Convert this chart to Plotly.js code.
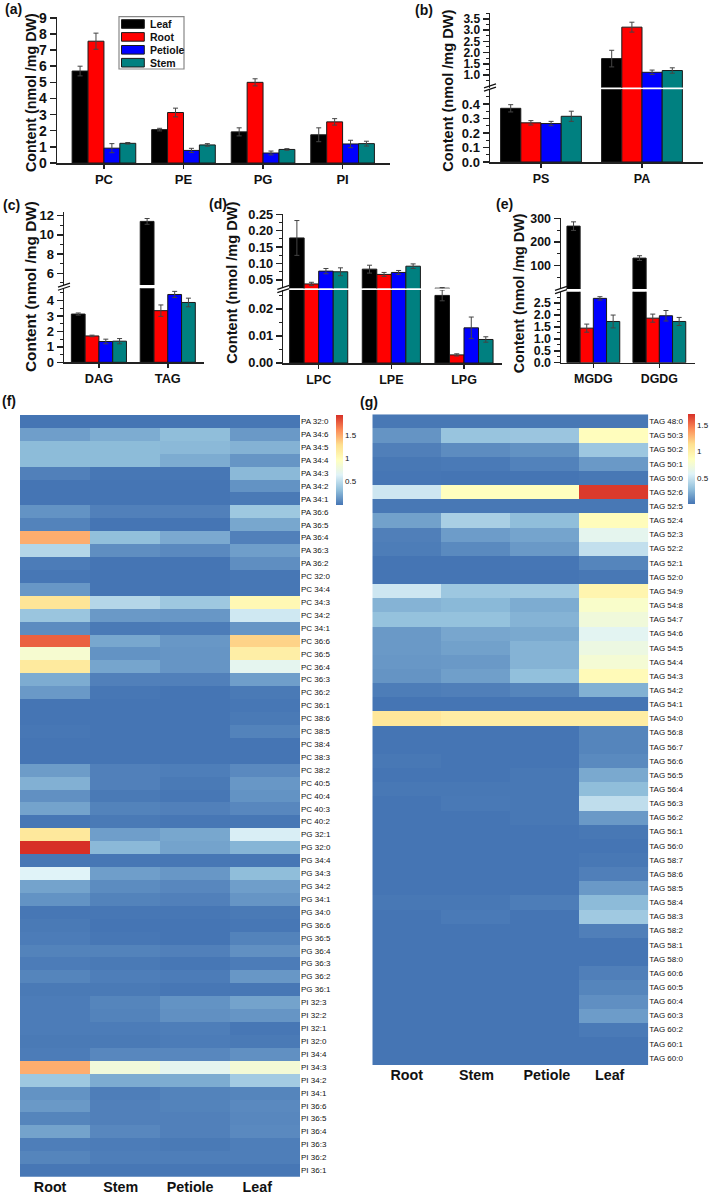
<!DOCTYPE html>
<html><head><meta charset="utf-8">
<script src="https://cdn.plot.ly/plotly-3.0.1.min.js"></script>
<style>html,body{margin:0;padding:0;background:#fff}#c{width:709px;height:1194px}</style>
</head><body><div id="c"></div>
<script>
const W = 709, H = 1194;
const seriesNames = ['Leaf', 'Root', 'Petiole', 'Stem'];
const seriesColors = ['#000000', '#ff0000', '#0000ff', '#008080'];

// (a)
const catsA = ['PC', 'PE', 'PG', 'PI'];
const valsA = [[5.7, 2.07, 1.93, 1.75], [7.55, 3.13, 5.0, 2.55], [0.92, 0.78, 0.62, 1.18], [1.22, 1.12, 0.84, 1.2]];
const errsA = [[0.3, 0.08, 0.25, 0.43], [0.5, 0.27, 0.22, 0.2], [0.28, 0.13, 0.12, 0.23], [0.05, 0.08, 0.05, 0.15]];
// (b)
const catsB = ['PS', 'PA'];
const valsB = [[0.37, 1.73], [0.27, 3.13], [0.265, 1.12], [0.315, 1.2]];
const errsB = [[0.025, 0.37], [0.015, 0.22], [0.015, 0.1], [0.035, 0.12]];
// (c)
const catsC = ['DAG', 'TAG'];
const valsC = [[3.13, 11.4], [1.71, 3.35], [1.35, 4.4], [1.37, 3.88]];
const errsC = [[0.07, 0.3], [0.05, 0.37], [0.15, 0.2], [0.17, 0.28]];
// (d)
const catsD = ['LPC', 'LPE', 'LPG'];
const valsD = [[0.178, 0.083, 0.025], [0.038, 0.067, 0.003], [0.077, 0.073, 0.013], [0.075, 0.092, 0.0087]];
const errsD = [[0.053, 0.012, 0.002], [0.005, 0.006, 0.0004], [0.008, 0.006, 0.004], [0.012, 0.007, 0.001]];
// (e)
const catsE = ['MGDG', 'DGDG'];
const valsE = [[267, 132], [1.45, 1.87], [2.7, 1.97], [1.73, 1.73]];
const errsE = [[18, 10], [0.17, 0.17], [0.07, 0.22], [0.27, 0.17]];

// heatmaps: columns Root, Stem, Petiole, Leaf
const heatCols = ['Root', 'Stem', 'Petiole', 'Leaf'];
const labelsF = ['PA 32:0','PA 34:6','PA 34:5','PA 34:4','PA 34:3','PA 34:2','PA 34:1','PA 36:6','PA 36:5','PA 36:4','PA 36:3','PA 36:2',
 'PC 32:0','PC 34:4','PC 34:3','PC 34:2','PC 34:1','PC 36:6','PC 36:5','PC 36:4','PC 36:3','PC 36:2','PC 36:1','PC 38:6','PC 38:5','PC 38:4','PC 38:3','PC 38:2','PC 40:5','PC 40:4','PC 40:3','PC 40:2',
 'PG 32:1','PG 32:0','PG 34:4','PG 34:3','PG 34:2','PG 34:1','PG 34:0','PG 36:6','PG 36:5','PG 36:4','PG 36:3','PG 36:2','PG 36:1',
 'PI 32:3','PI 32:2','PI 32:1','PI 32:0','PI 34:4','PI 34:3','PI 34:2','PI 34:1','PI 36:6','PI 36:5','PI 36:4','PI 36:3','PI 36:2','PI 36:1'];
const heatF = [
[0,0,0,.01],[.18,.24,.32,.16],[.31,.31,.30,.27],[.31,.31,.24,.14],[.05,.01,.01,.3],[0,0,0,.13],[0,0,0,.02],[.13,.05,.05,.38],[.06,0,0,.22],[1.5,.33,.23,.05],[.47,.11,.09,.18],[.03,0,0,.11],
[.01,0,0,.01],[.15,0,0,.01],[1.25,.47,.38,1.05],[.36,.16,.15,.58],[.1,.02,.03,.14],[1.78,.22,.15,1.35],[.88,.13,.14,1.15],[1.2,.21,.14,.7],[.24,.05,.05,.18],[.16,.01,0,.02],[0,0,0,.01],[0,0,0,.02],[.01,0,0,.06],[0,0,0,0],[0,0,0,0],[.17,.05,.04,.09],[.26,.05,.02,.15],[.12,.02,.01,.13],[.2,.06,.05,.08],[.01,.02,.01,.01],
[1.22,.18,.22,.62],[1.95,.3,.2,.28],[.01,.01,.01,.01],[.65,.18,.15,.32],[.2,.1,.08,.18],[.13,.06,.05,.14],[.01,.01,.01,.02],[.02,0,0,.01],[.03,.01,0,.06],[.06,.06,.05,.12],[.03,.02,.01,.03],[.07,.04,.03,.15],[.02,.02,.01,.01],
[.03,.07,.13,.2],[.03,.06,.12,.14],[.03,.03,.04,.01],[.02,.02,.03,.02],[.03,.08,.08,.12],[1.5,.82,.7,.85],[.38,.24,.24,.4],[.13,.04,.06,.07],[.16,.05,.06,.09],[.07,.05,.05,.08],[.2,.08,.05,.09],[.04,.03,.02,.04],[.07,.04,.04,.04],[.01,.01,.01,.01]];
const labelsG = ['TAG 48:0','TAG 50:3','TAG 50:2','TAG 50:1','TAG 50:0','TAG 52:6','TAG 52:5','TAG 52:4','TAG 52:3','TAG 52:2','TAG 52:1','TAG 52:0',
 'TAG 54:9','TAG 54:8','TAG 54:7','TAG 54:6','TAG 54:5','TAG 54:4','TAG 54:3','TAG 54:2','TAG 54:1','TAG 54:0',
 'TAG 56:8','TAG 56:7','TAG 56:6','TAG 56:5','TAG 56:4','TAG 56:3','TAG 56:2','TAG 56:1','TAG 56:0',
 'TAG 58:7','TAG 58:6','TAG 58:5','TAG 58:4','TAG 58:3','TAG 58:2','TAG 58:1','TAG 58:0',
 'TAG 60:6','TAG 60:5','TAG 60:4','TAG 60:3','TAG 60:2','TAG 60:1','TAG 60:0'];
const heatG = [
[.01,.01,.01,.01],[.12,.31,.32,.87],[.04,.09,.11,.33],[.01,.02,.05,.14],[.005,0,0,.01],[.5,.86,.86,1.68],[.01,.01,.01,.01],[.17,.37,.28,.88],[.04,.15,.18,.62],[.03,.08,.14,.46],[0,0,.005,.06],[0,0,0,.01],
[.5,.33,.34,.95],[.24,.26,.21,.8],[.3,.3,.24,.72],[.14,.19,.2,.6],[.14,.17,.24,.68],[.13,.14,.24,.75],[.12,.16,.29,.9],[.03,.04,.06,.23],[0,0,0,0],[1.08,1.02,1.02,1.02],
[0,0,0,.06],[0,0,0,.06],[.01,0,0,.08],[0,0,.01,.2],[.01,.01,.01,.28],[0,.015,.01,.45],[0,0,.01,.14],[0,0,0,.01],[0,0,0,0],
[0,0,0,.01],[0,0,0,.04],[0,0,0,.14],[.01,.01,.03,.27],[0,.02,0,.34],[0,0,0,.04],[0,0,0,0],[0,0,0,0],
[0,0,0,.04],[0,0,0,.06],[0,0,0,.1],[0,0,0,.15],[0,0,0,.02],[0,0,0,0],[0,0,0,0]];
const heatScale = [[0,'#4575b4'],[1/6,'#91bfdb'],[2/6,'#e0f3f8'],[3/6,'#ffffbf'],[4/6,'#fee090'],[5/6,'#fc8d59'],[1,'#d73027']];

const FONT = 'Liberation Sans, Arial, sans-serif';
const INK = '#111111';
const px = x => x / W, py = y => 1 - y / H;
const dom = (top, bottom) => [py(bottom), py(top)];
const traces = [], shapes = [], annotations = [];
const layout = {
  width: W, height: H, margin: {l:0, r:0, t:0, b:0}, paper_bgcolor:'#fff', plot_bgcolor:'rgba(0,0,0,0)',
  showlegend:false, barmode:'group', bargap:0.2, bargroupgap:0, font:{family:FONT, color:INK}
};

function ann(text, x, y, size, opt) {
  annotations.push(Object.assign({text, x:px(x), y:py(y), xref:'paper', yref:'paper', showarrow:false,
    xanchor:'center', yanchor:'middle', font:{size, family:FONT, color:INK}}, opt||{}));
}
function bold(s){ return '<b>'+s+'</b>'; }

function xAxisFor(id, yAnchor, cats, left, right, xr, tickSize) {
  layout[id] = {domain:[px(left), px(right)], range:xr, anchor:yAnchor, type:'category', tickmode:'array', tickvals:cats,
    ticktext:cats.map(bold), showgrid:false, zeroline:false, showline:true, linecolor:'#222', linewidth:1.5,
    ticks:'outside', ticklen:4, tickwidth:1.5, tickcolor:'#222', tickfont:{size:tickSize, family:FONT, color:INK}};
}
function yAxisFor(id, xAnchor, top, bottom, yr, vals, minor, fmt, tickSize) {
  const ax = {domain:dom(top, bottom), range:yr, anchor:xAnchor, tickmode:'array', tickvals:vals,
    ticktext:vals.map(v => bold(fmt ? v.toFixed(fmt) : String(v))),
    showgrid:false, zeroline:false, showline:true, linecolor:'#222', linewidth:1.5, ticks:'outside', ticklen:6, tickwidth:1.5,
    tickcolor:'#222', tickfont:{size:tickSize, family:FONT, color:INK}};
  if (minor) ax.minor = {ticks:'outside', ticklen:3, tickwidth:1, tickcolor:'#222', tickmode:'array', tickvals:minor, showgrid:false};
  layout[id] = ax;
}
// floor: values below it fall under this subplot's range and are left out of it
function bars(cats, vals, errs, xa, ya, floor) {
  vals.forEach((v, i) => traces.push({type:'bar', name:seriesNames[i], x:cats, y:v.map(d => (floor !== undefined && d < floor) ? null : d), xaxis:xa, yaxis:ya,
    marker:{color:seriesColors[i], line:{color:'#1a1a1a', width:1}},
    error_y:{type:'data', array:errs[i], visible:true, color:'#444', thickness:1, width:2.5}}));
}
function breakMark(x, y) {
  [-1.6, 1.6].forEach(d => shapes.push({type:'line', xref:'paper', yref:'paper', x0:px(x-6), x1:px(x+6), y0:py(y+d+2), y1:py(y+d-2),
    line:{color:'#111', width:1.2}}));
}

// (a)
xAxisFor('xaxis', 'y', catsA, 57, 390, [-0.59, 3.596], 13);
yAxisFor('yaxis', 'x', 17, 163, [0, 9.05], [0,1,2,3,4,5,6,7,8,9], null, 0, 14);
bars(catsA, valsA, errsA, 'x', 'y');

// (b)
xAxisFor('xaxis2', 'y2', catsB, 490, 703, [-0.505, 1.604], 12.5);
yAxisFor('yaxis2', 'x2', 89.3, 162, [0, 0.501], [0,.1,.2,.3,.4], [.05,.15,.25,.35,.45], 1, 13);
yAxisFor('yaxis3', 'x2', 13, 87.5, [0.444, 3.76], [1,1.5,2,2.5,3,3.5], [.75,1.25,1.75,2.25,2.75,3.25,3.75], 1, 12);
bars(catsB, valsB, errsB, 'x2', 'y2'); bars(catsB, valsB, errsB, 'x2', 'y3', 0.444);
breakMark(490, 87.5);

// (c)
xAxisFor('xaxis3', 'y4', catsC, 64, 204, [-0.507, 1.526], 12.75);
yAxisFor('yaxis4', 'x3', 288.3, 362.3, [0, 4.8], [0,1,2,3,4], [.5,1.5,2.5,3.5,4.5], 0, 13);
yAxisFor('yaxis5', 'x3', 211.5, 285, [4.78, 12.43], [6,8,10,12], [5,7,9,11], 0, 13);
bars(catsC, valsC, errsC, 'x3', 'y4'); bars(catsC, valsC, errsC, 'x3', 'y5', 4.78);
breakMark(64, 286.7);

// (d)
xAxisFor('xaxis4', 'y6', catsD, 283.3, 502, [-0.487, 2.523], 12.5);
yAxisFor('yaxis6', 'x4', 290, 363, [0, 0.027], [0,.01,.02], [.005,.015,.025], 2, 12.8);
yAxisFor('yaxis7', 'x4', 214.3, 288.3, [0.0247, 0.25], [.05,.1,.15,.2,.25], [.075,.125,.175,.225], 2, 12.8);
bars(catsD, valsD, errsD, 'x4', 'y6'); bars(catsD, valsD, errsD, 'x4', 'y7', 0.0247);
breakMark(283.3, 289);

// (e)
xAxisFor('xaxis5', 'y8', catsE, 561, 695, [-0.49, 1.54], 12.4);
yAxisFor('yaxis8', 'x5', 291.7, 362.7, [0, 2.98], [0,.5,1,1.5,2,2.5], [.25,.75,1.25,1.75,2.25,2.75], 1, 12.4);
yAxisFor('yaxis9', 'x5', 218.3, 289, [1.6, 300], [100,200,300], [50,150,250], 0, 12.4);
bars(catsE, valsE, errsE, 'x5', 'y8'); bars(catsE, valsE, errsE, 'x5', 'y9', 3);
breakMark(561, 290);

// heatmaps
function heat(z, labels, xa, ya, xId, yId, left, right, top, bottom, zmax, tickvals, cbX, cbTop, cbH) {
  traces.push({type:'heatmap', z, x:[0,1,2,3], y:labels, xaxis:xa, yaxis:ya, zmin:0, zmax, colorscale:heatScale, xgap:0, ygap:0,
    colorbar:{x:px(cbX), xanchor:'left', xpad:0, y:py(cbTop), yanchor:'top', ypad:0, lenmode:'pixels', len:cbH, thicknessmode:'pixels', thickness:6.5,
      outlinewidth:0, tickmode:'array', tickvals:[0.5,1,1.5], ticktext:['0.5','1','1.5'], ticks:'', ticklen:0, tickfont:{size:8, family:FONT, color:INK}}});
  layout[xId] = {domain:[px(left), px(right)], range:[-0.5,3.5], anchor:ya, tickmode:'array', tickvals, ticktext:heatCols.map(bold),
    showgrid:false, zeroline:false, showline:false, ticks:'', tickfont:{size:14.3, family:FONT, color:INK}};
  layout[yId] = {domain:dom(top, bottom), type:'category', range:[labels.length-0.5,-0.5], anchor:xa, side:'right', tickmode:'array', tickvals:labels, ticktext:labels,
    showgrid:false, zeroline:false, showline:false, ticks:'', tickfont:{size:8, family:FONT, color:INK}};
}
heat(heatF, labelsF, 'x6', 'y10', 'xaxis6', 'yaxis10', 20, 300, 415, 1176.7, 1.95, [-0.07,0.94,1.93,2.89], 336, 414.7, 90.3);
heat(heatG, labelsG, 'x7', 'y11', 'xaxis7', 'yaxis11', 372.3, 648.3, 414.3, 1065, 1.71, [0,1.01,2.03,2.94], 688, 414.3, 90);

// panel letters
[['(a)',13,9],['(b)',424,10],['(c)',11,205],['(d)',218,204],['(e)',504,204],['(f)',9,401],['(g)',369,402]]
  .forEach(([t,x,y]) => ann(bold(t), x, y, 14));
// y titles
[[31,93,14.3],[447.7,91,14.6],[30,287,15.4],[231.7,283,14.6],[519.3,293,14.4]]
  .forEach(([x,y,s]) => ann(bold('Content (nmol /mg DW)'), x, y, s, {textangle:-90}));

// legend of panel (a)
shapes.push({type:'rect', xref:'paper', yref:'paper', x0:px(119), x1:px(184), y0:py(16.7), y1:py(69), fillcolor:'#fff', line:{color:'#888', width:1.2}, layer:'above'});
seriesNames.forEach((n,i) => {
  const yc = 24 + i*12.9;
  shapes.push({type:'rect', xref:'paper', yref:'paper', x0:px(121.5), x1:px(144.3), y0:py(yc+4.3), y1:py(yc-4.3), fillcolor:seriesColors[i], line:{color:'#1a1a1a', width:1}, layer:'above'});
  ann(bold(n), 147.5, yc, 10.5, {xanchor:'left'});
});

layout.shapes = shapes; layout.annotations = annotations;
Plotly.newPlot('c', traces, layout, {staticPlot:true, displayModeBar:false});
</script>
</body></html>
